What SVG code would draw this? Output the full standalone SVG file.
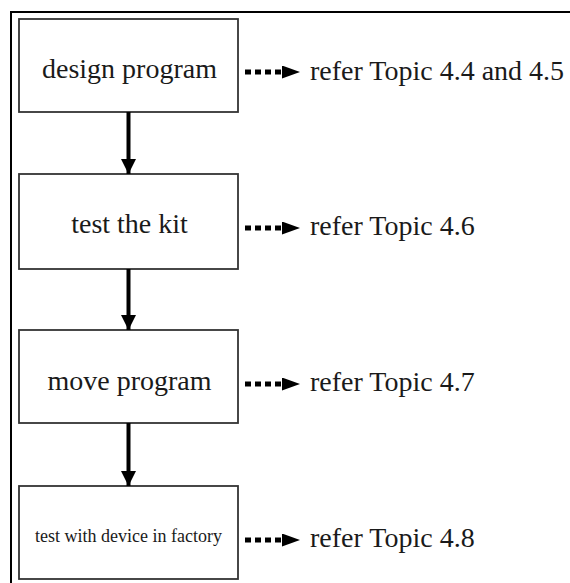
<svg xmlns="http://www.w3.org/2000/svg" width="570" height="583" viewBox="0 0 570 583">
<defs>
<style>
.box{fill:#fff;stroke:#333;stroke-width:1.8}
.t{font-family:'Liberation Serif',serif;font-size:28px;fill:#1a1a1a}
.ts{font-family:'Liberation Serif',serif;font-size:18px;fill:#1a1a1a}
.solid{stroke:#000;stroke-width:4;fill:none}
.dot{stroke:#000;stroke-width:5;stroke-dasharray:6 4;fill:none}
</style>
<marker id="ah" viewBox="0 0 10 10" refX="10" refY="5" markerUnits="userSpaceOnUse" markerWidth="15" markerHeight="15" orient="auto"><path d="M0,0 L10,5 L0,10 Z" fill="#000"/></marker>
<marker id="ah2" viewBox="0 0 10 10" refX="0" refY="5" markerUnits="userSpaceOnUse" markerWidth="18" markerHeight="13" orient="auto" preserveAspectRatio="none"><path d="M0,0 L10,5 L0,10 Z" fill="#000"/></marker>
</defs>
<rect width="570" height="583" fill="#fff"/>
<path d="M11,583 V12 H570" fill="none" stroke="#000" stroke-width="2"/>
<g id="n1"><rect class="box" x="19" y="19" width="219" height="93"/><text class="t" x="129.5" y="78" text-anchor="middle">design program</text></g>
<g id="n2"><rect class="box" x="19" y="174" width="219" height="95"/><text class="t" x="129.5" y="233" text-anchor="middle">test the kit</text></g>
<g id="n3"><rect class="box" x="19" y="330" width="219" height="93"/><text class="t" x="129.5" y="390" text-anchor="middle">move program</text></g>
<g id="n4"><rect class="box" x="19" y="486" width="219" height="93"/><text class="ts" x="128.5" y="542" text-anchor="middle">test with device in factory</text></g>
<g id="r1"><text class="t" x="310" y="80">refer Topic 4.4 and 4.5</text></g>
<g id="r2"><text class="t" x="310" y="235">refer Topic 4.6</text></g>
<g id="r3"><text class="t" x="310" y="391">refer Topic 4.7</text></g>
<g id="r4"><text class="t" x="310" y="547">refer Topic 4.8</text></g>
<g id="connectors">
<line class="solid" x1="128.5" y1="112" x2="128.5" y2="174" marker-end="url(#ah)"/>
<line class="solid" x1="128.5" y1="269" x2="128.5" y2="330" marker-end="url(#ah)"/>
<line class="solid" x1="128.5" y1="423" x2="128.5" y2="486" marker-end="url(#ah)"/>
<line class="dot" x1="245" y1="72" x2="282" y2="72" marker-end="url(#ah2)"/>
<line class="dot" x1="245" y1="228" x2="282" y2="228" marker-end="url(#ah2)"/>
<line class="dot" x1="245" y1="384" x2="282" y2="384" marker-end="url(#ah2)"/>
<line class="dot" x1="245" y1="540" x2="282" y2="540" marker-end="url(#ah2)"/>
</g>
</svg>
